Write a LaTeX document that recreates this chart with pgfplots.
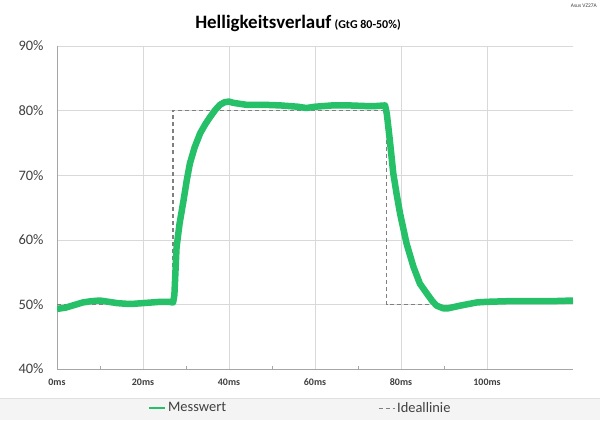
\documentclass[border=0pt]{standalone}
\usepackage{pgfplots}
\pgfplotsset{compat=1.18}
\usepackage{fontspec}
\setmainfont{Carlito}

\definecolor{mess}{RGB}{38,192,104}
\definecolor{ideal}{RGB}{128,128,128}
\definecolor{gridc}{RGB}{217,217,217}
\definecolor{axc}{RGB}{166,166,166}
\definecolor{txt}{RGB}{64,64,64}

\begin{document}
\begin{tikzpicture}[x=1bp,y=1bp]
  \fill[white] (0,0) rectangle (600,420);
  \useasboundingbox (0,0) rectangle (600,420);
  % legend band
  \fill[gray!9] (0,0) rectangle (600,22);
  \draw[gray!25] (0,22) -- (600,22);
  % title
  \node[anchor=base, inner sep=0pt] at (298,391)
    {\fontsize{19}{22}\selectfont\bfseries Helligkeitsverlauf\,\fontsize{12}{14}\selectfont (GtG 80-50\%)};
  \node[anchor=north east, inner sep=0pt, text=txt] at (597,416)
    {\fontsize{5.5}{6}\selectfont Asus VZ27A};

  \begin{axis}[
      at={(57bp,51bp)}, anchor=south west,
      scale only axis,
      width=516bp, height=323bp,
      xmin=0, xmax=120,
      ymin=40, ymax=90,
      xtick={0,20,...,100},
      ytick={40,50,...,90},
      minor x tick num=1,
      xticklabel={\pgfmathprintnumber{\tick}ms},
      yticklabel={\pgfmathprintnumber{\tick}\%},
      /pgf/number format/assume math mode=true,
      x tick label style={font=\fontsize{10}{12}\selectfont\bfseries, text=txt, yshift=-6bp},
      y tick label style={font=\fontsize{14.5}{16}\selectfont, text=txt, xshift=-10bp},
      axis lines*=left,
      axis line style={axc, line width=0.8pt},
      tick style={axc, line width=0.6pt},
      major tick length=0pt,
      minor tick length=3bp,
      tick pos=left,
      xtick align=inside,
      grid=major,
      major grid style={gridc, line width=0.6pt},
      clip=true,
      reverse legend,
      legend columns=2,
      legend style={
        at={(0.471,-0.121)}, anchor=center,
        draw=none, fill=none,
        font=\fontsize{14.5}{16}\selectfont, text=txt,
        /tikz/every even column/.append style={column sep=150bp},
      },
    ]
    % ideal line first, so that the measurement lies over it
    \addplot[ideal, line width=1.3bp, dash pattern=on 4bp off 3bp,
      legend image code/.code={\draw[ideal, line width=1bp, dash pattern=on 4bp off 3bp] (0bp,0bp) -- (16bp,0bp);}]
      coordinates {
      (0,50) (27,50) (27,80) (76.7,80) (76.7,50) (89,50)
    };
    \addlegendentry{Ideallinie}
    \addplot[mess, line width=6.5bp, line join=round,
      legend image code/.code={\draw[mess, line width=2.5bp] (0bp,0bp) -- (16bp,0bp);}]
      coordinates {
      (0,49.3) (2,49.5) (4,49.9) (6,50.3) (8,50.5) (10,50.6) (12,50.4)
      (14,50.2) (16,50.1) (18,50.1) (20,50.2) (22,50.3) (24,50.4) (26,50.4)
      (27,50.3) (27.3,51.5) (27.8,58.8) (28.5,62.5) (29.4,66) (30.2,69.3)
      (30.9,71.8) (32,74.3) (33.3,76.5) (34.5,77.9) (35.6,79) (36.8,80.1)
      (37.9,80.9) (39,81.3) (40,81.4) (41,81.2) (44,80.9) (48,80.9)
      (52,80.8) (56,80.6) (58,80.4) (60,80.6) (64,80.8) (68,80.8)
      (72,80.7) (74,80.7) (76.3,80.8) (76.7,79.5) (77.4,75.4) (78.2,70.3)
      (79,67) (79.8,64) (81.3,59.4) (82.9,55.8) (84.4,53.2) (86,51.7)
      (87.3,50.5) (88.3,49.8) (89.8,49.4) (91,49.4) (93.7,49.8) (97.6,50.3)
      (100,50.4) (105,50.5) (110,50.5) (115,50.5) (120,50.6)
    };
    \addlegendentry{Messwert}
  \end{axis}
\end{tikzpicture}
\end{document}
